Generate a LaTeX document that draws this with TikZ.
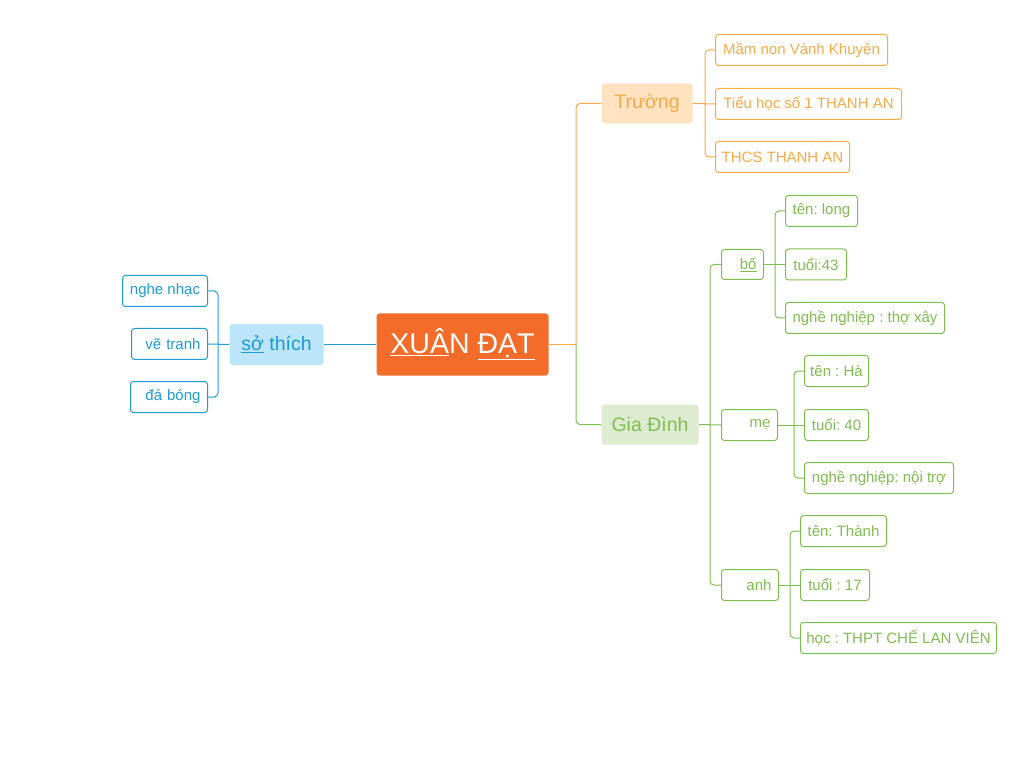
\documentclass[tikz,border=0pt]{standalone}
\usepackage{fontspec}
\setmainfont{Liberation Sans}
\usepackage{xcolor}
\frenchspacing
\definecolor{rootorange}{RGB}{243,108,41}
\definecolor{skyblue}{RGB}{28,155,216}
\definecolor{skyfill}{RGB}{188,229,250}
\definecolor{amber}{RGB}{247,170,70}
\definecolor{amberfill}{RGB}{255,227,193}
\definecolor{leafgreen}{RGB}{128,189,80}
\definecolor{leaffill}{RGB}{221,235,208}
\tikzset{every picture/.style={line width=1pt},
  root/.style={fill=rootorange, text=white, rounded corners=3pt, anchor=north west,
    inner sep=0pt, minimum width=172pt, minimum height=62pt, font=\fontsize{28.5}{32}\selectfont},
  topic/.style={rounded corners=3pt, anchor=north west, inner sep=0pt,
    minimum height=40pt, font=\fontsize{19.5}{23}\selectfont},
  leaf/.style={draw, rounded corners=3pt, anchor=north west, inner sep=0pt,
    minimum height=31pt, font=\fontsize{15}{18}\selectfont},
  rleaf/.style={leaf, inner xsep=7pt, align=right},
  bline/.style={draw=skyblue, rounded corners=4pt},
  oline/.style={draw=amber, rounded corners=4pt},
  gline/.style={draw=leafgreen, rounded corners=4pt}
}

\begin{document}
\begin{tikzpicture}[x=1pt,y=-1pt]
    \useasboundingbox (0,0) rectangle (1023,767);
    % centre and main topics
    \node[root] (dat) at (376,313) {\underline{XUÂ}N \underline{ĐẠT}};
    \node[topic, fill=skyfill, text=skyblue, minimum width=94pt, minimum height=41pt] (hobby) at (229,323.5) {\underline{sở} thích};
    \node[topic, fill=amberfill, text=amber, minimum width=91pt] (school) at (601,83) {Trường};
    \node[topic, fill=leaffill, text=leafgreen, minimum width=97pt] (family) at (601,404) {Gia Đình};
    % so thich
    \node[leaf, draw=skyblue, text=skyblue, minimum width=85pt] (music) at (122,275) {nghe nhạc};
    \node[rleaf, draw=skyblue, text=skyblue, text width=62pt] (paint) at (131,328) {vẽ tranh};
    \node[rleaf, draw=skyblue, text=skyblue, text width=63pt] (ball) at (130,381) {đá bóng};
    % truong
    \node[leaf, draw=amber, text=amber, minimum width=172pt] (kinder) at (715,34) {Mầm non Vành Khuyên};
    \node[leaf, draw=amber, text=amber, minimum width=186pt] (primary) at (715,88) {Tiểu học số 1 THANH AN};
    \node[leaf, draw=amber, text=amber, minimum width=134pt] (middle) at (715,141) {THCS THANH AN};
    % gia dinh
    \node[rleaf, draw=leafgreen, text=leafgreen, text width=28pt, minimum height=30pt] (dad) at (721,249) {\underline{bố}};
    \node[rleaf, draw=leafgreen, text=leafgreen, text width=42pt] (mom) at (721,409) {mẹ};
    \node[rleaf, draw=leafgreen, text=leafgreen, text width=43pt] (bro) at (721,569) {anh};
    \node[leaf, draw=leafgreen, text=leafgreen, minimum width=72pt] (dname) at (785,195) {tên: long};
    \node[leaf, draw=leafgreen, text=leafgreen, minimum width=61pt] (dage) at (785,248.5) {tuổi:43};
    \node[leaf, draw=leafgreen, text=leafgreen, minimum width=159pt] (djob) at (785,302) {nghề nghiệp : thợ xây};
    \node[leaf, draw=leafgreen, text=leafgreen, minimum width=64pt] (mname) at (804,355) {tên : Hà};
    \node[leaf, draw=leafgreen, text=leafgreen, minimum width=64pt] (mage) at (804,409) {tuổi: 40};
    \node[leaf, draw=leafgreen, text=leafgreen, minimum width=149pt] (mjob) at (804,462) {nghề nghiệp: nội trợ};
    \node[leaf, draw=leafgreen, text=leafgreen, minimum width=86pt] (bname) at (800,515) {tên: Thành};
    \node[leaf, draw=leafgreen, text=leafgreen, minimum width=69pt] (bage) at (800,569) {tuổi : 17};
    \node[leaf, draw=leafgreen, text=leafgreen, minimum width=196pt] (bschool) at (800,622) {học : THPT CHẾ LAN VIÊN};
    % junctions
    \coordinate (cj) at ([xshift=27pt]dat.east);
    \coordinate (hj) at ([xshift=-11pt]hobby.west);
    \coordinate (sj) at ([xshift=12pt]school.east);
    \coordinate (fj) at ([xshift=11pt]family.east);
    \coordinate (dj) at ([xshift=11pt]dad.east);
    \coordinate (mj) at ([xshift=16pt]mom.east);
    \coordinate (bj) at ([xshift=11pt]bro.east);
    % connectors
    \draw[bline] (dat.west) -- (hobby.east);
    \draw[oline] (dat.east) -- (cj);
    \draw[oline] (school.west) -| (cj);
    \draw[gline] (family.west) -| (cj);
    \draw[bline] (hobby.west) -- (paint.east);
    \draw[bline] (music.east) -| (hj) |- (ball.east);
    \draw[oline] (school.east) -- (primary.west);
    \draw[oline] (kinder.west) -| (sj) |- (middle.west);
    \draw[gline] (family.east) -- (mom.west);
    \draw[gline] (dad.west) -| (fj) |- (bro.west);
    \draw[gline] (dad.east) -- (dage.west);
    \draw[gline] (dname.west) -| (dj) |- (djob.west);
    \draw[gline] (mom.east) -- (mage.west);
    \draw[gline] (mname.west) -| (mj) |- (mjob.west);
    \draw[gline] (bro.east) -- (bage.west);
    \draw[gline] (bname.west) -| (bj) |- (bschool.west);
\end{tikzpicture}
\end{document}
